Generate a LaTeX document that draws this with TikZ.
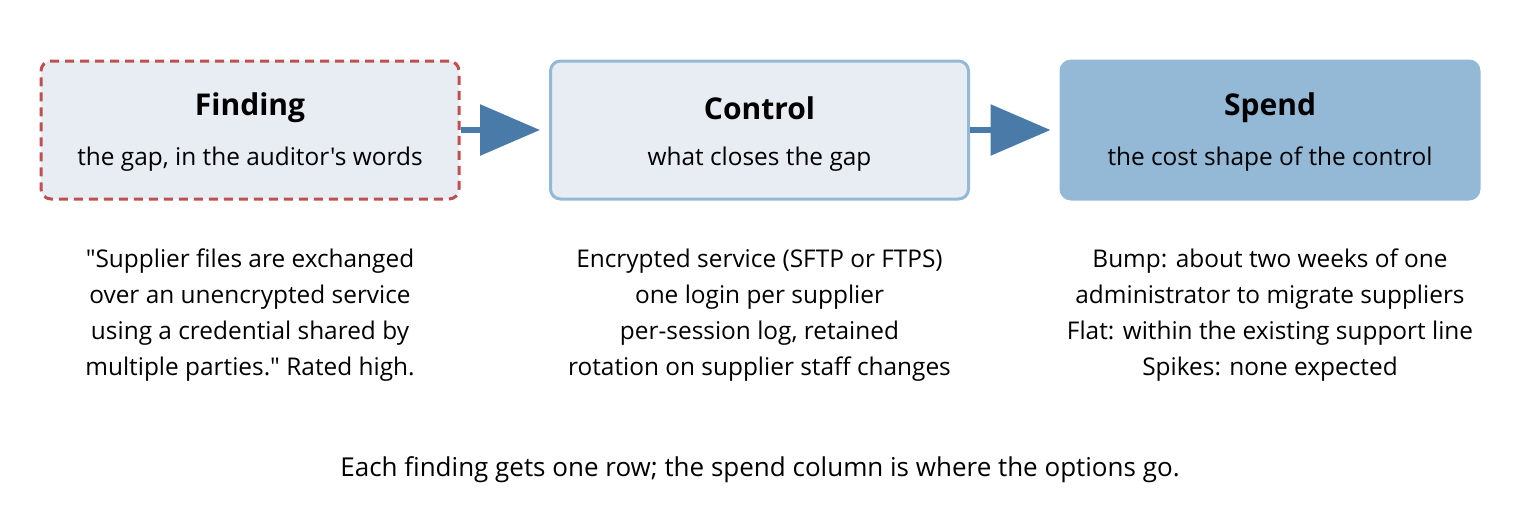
\documentclass[tikz,border=0pt]{standalone}
\usepackage{fontspec}
\setmainfont{Open Sans}[Ligatures=TeXOff]
\usetikzlibrary{arrows.meta}
\definecolor{boxfill}{HTML}{E8EDF4}
\definecolor{lblue}{HTML}{93B9D6}
\definecolor{dred}{HTML}{C0504D}
\definecolor{arr}{HTML}{4A7AA8}
\begin{document}
\begin{tikzpicture}[x=1pt,y=-1pt,
  box/.style={rounded corners=10pt,line width=3pt,minimum width=418pt,minimum height=138pt,inner sep=0pt},
  ttl/.style={font=\fontsize{30}{33}\selectfont\bfseries},
  sub/.style={font=\fontsize{24.4}{28}\selectfont},
  body/.style={font=\fontsize{24.4}{36}\selectfont,align=center},
  con/.style={line width=6pt,arr,shorten >=9pt,-{Triangle[length=60pt,width=50pt]}}]
\useasboundingbox (0,0) rectangle (1520,520);
\node[box,draw=dred,dash pattern=on 9pt off 6pt,fill=boxfill] (f) at (250,130) {};
\node[box,draw=lblue,fill=boxfill] (c) at (759.5,130) {};
\node[box,draw=lblue,fill=lblue] (s) at (1270,130) {};
\node[ttl] (ft) at (250,108) {Finding};
\node[sub] (fs) at (250,159) {the gap, in the auditor's words};
\node[ttl] (ct) at (759.5,108) {Control};
\node[sub] (cs) at (759.5,159) {what closes the gap};
\node[ttl] (st) at (1270,108) {Spend};
\node[sub] (ss) at (1270,159) {the cost shape of the control};
\draw[con] (f.east) -- (c.west);
\draw[con] (c.east) -- (s.west);
\node[body] (fb) at (250,315) {"Supplier files are exchanged\\over an unencrypted service\\using a credential shared by\\multiple parties." Rated high.};
\node[body] (cb) at (759.5,315) {Encrypted service (SFTP or FTPS)\\one login per supplier\\per-session log, retained\\rotation on supplier staff changes};
\node[body] (sb) at (1270,315) {Bump: about two weeks of one\\administrator to migrate suppliers\\Flat: within the existing support line\\Spikes: none expected};
\node[font=\fontsize{26}{30}\selectfont] (cap) at (760,470) {Each finding gets one row; the spend column is where the options go.};
\end{tikzpicture}
\end{document}
